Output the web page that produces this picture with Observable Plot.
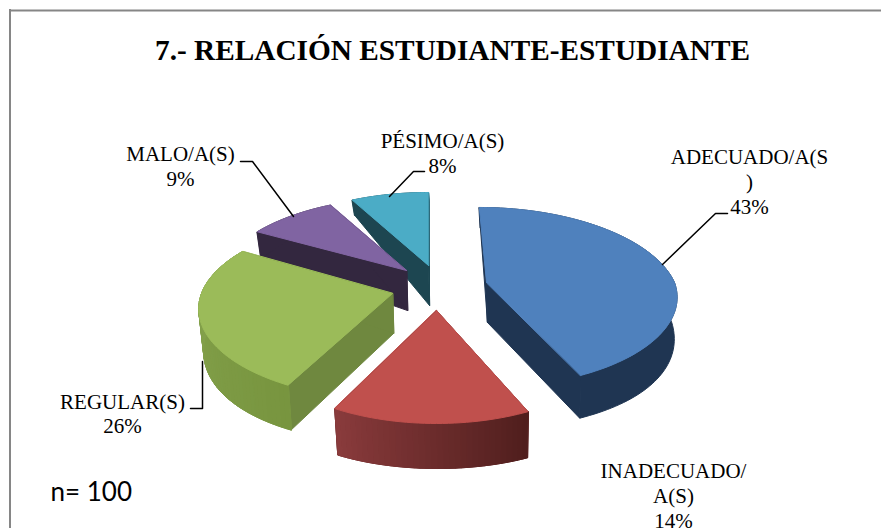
<!DOCTYPE html>
<html><head><meta charset="utf-8">
<script src="https://cdn.jsdelivr.net/npm/d3@7"></script>
<script src="https://cdn.jsdelivr.net/npm/@observablehq/plot@0.6"></script>
<style>html,body{margin:0;padding:0;background:#fff}svg{display:block}</style>
</head><body><div id="c"></div>
<script>
const titleText = "7.- RELACIÓN ESTUDIANTE-ESTUDIANTE";
const noteText = "n= 100";
const categories = ["ADECUADO/A(S\n)", "INADECUADO/\nA(S)", "REGULAR(S)", "MALO/A(S)", "PÉSIMO/A(S)"];
const values = [43, 14, 26, 9, 8];
const topColors = ["#4f81bd", "#c0504d", "#9bbb59", "#8064a2", "#4bacc6"];
const wallColors = ["#1f3552", "#6b2a2a", "#6f883f", "#33273f", "#1d4651"];
const rimStart = ["#1f3552", "#8a3b3c", "#8aa852", "#33273f", "#1d4651"];
const rimEnd = ["#1f3552", "#4f1e1d", "#78953f", "#33273f", "#1d4651"];

// pie look: exploded apex and perspective of each slice
const look = [
  {ax:486, ay:282, R:188, a:87.4, q:.165, botA:100, botQ:.06, lean:.096, turn:0},
  {ax:436, ay:310, R:183, a:88.7, q:.215, botA:109.4, botQ:.073, lean:0, turn:1.5},
  {ax:392, ay:293, R:191, a:88, q:.17, botA:102, botQ:.073, lean:0, turn:2.5},
  {ax:406, ay:270, R:188, a:88.7, q:.215, botA:109.4, botQ:.073, lean:0, turn:0},
  {ax:428, ay:265, R:188, a:88.7, q:.215, botA:109.4, botQ:.073, lean:0, turn:0}
];
const depth = 40;
const labelAt = [[749,180.5],[673,494.5],[122,412.5],[180,165],[442,152]];
const leaders = [
  [[662,264],[715,213],[727,213]],
  [],
  [[202,361],[202,408],[190,408]],
  [[240,161],[252,161],[293,216]],
  [[389,196],[413,171],[424,171]]
];

const rad = d => d * Math.PI / 180;
function rimTop(l, deg) {
  const t = rad(deg), s = Math.sin(t), c = Math.cos(t);
  const f = 1 / (1 + l.q * c);
  const dx = l.R * s * f, dy = -l.a * c * f;
  return [dx + l.lean * Math.min(dy, 0), dy];
}
function rimBottom(l, deg) {
  const t = rad(deg), c = Math.cos(t);
  const [dx] = rimTop(l, deg);
  const dy = -l.botA * c / (1 + l.botQ * c);
  return [1 + .98 * dx, depth + dy];
}

const faces = [];
let idn = 0;
function face(pts, col) {
  const id = idn++;
  pts.forEach(p => faces.push({id, x: p[0], y: p[1], col}));
}
const starts = d3.cumsum([0, ...values]).map(v => v * 3.6);
const drawOrder = [4, 3, 2, 0, 1];
for (const i of drawOrder) {
  const l = look[i];
  const a0 = starts[i] + l.turn, a1 = starts[i + 1] + l.turn;
  const T = d => { const p = rimTop(l, d); return [l.ax + p[0], l.ay + p[1]]; };
  const B = d => { const p = rimBottom(l, d); return [l.ax + p[0], l.ay + p[1]]; };
  const apexT = [l.ax, l.ay], apexB = [l.ax + 1, l.ay + depth];
  const n = Math.max(8, Math.round((a1 - a0) / 1.5));
  const mix = d3.interpolateRgb(rimEnd[i], rimStart[i]);
  const angles = d3.range(n + 1).map(k => a0 + (a1 - a0) * k / n);
  face([apexT, T(a0), B(a0), apexB], wallColors[i]);
  face([apexT, T(a1), B(a1), apexB], wallColors[i]);
  // rim drawn as one piece first, so no seam shows between its shaded strips
  face([...angles.map(T), ...angles.slice().reverse().map(B)], d3.color(mix(.5)).formatHex());
  if (rimStart[i] !== rimEnd[i]) {
    for (let k = 0; k < n; k++) {
      face([T(angles[k]), T(angles[k + 1]), B(angles[k + 1]), B(angles[k])], d3.color(mix((k + .5) / n)).formatHex());
    }
  }
  face([apexT, ...angles.map(T)], topColors[i]);
}

const labelRows = categories.map((c, i) => ({text: `${c}\n${values[i]}%`, x: labelAt[i][0], y: labelAt[i][1]}));
const leaderRows = leaders.flatMap((pts, i) => pts.map(p => ({i, x: p[0], y: p[1]})));
const frameGray = "#868686";

const chart = Plot.plot({
  width: 881, height: 528, margin: 0,
  x: {type: "linear", domain: [0, 881], range: [0, 881], axis: null},
  y: {type: "linear", domain: [0, 528], range: [0, 528], axis: null},
  style: {background: "#fff", overflow: "hidden"},
  marks: [
    Plot.ruleY([10], {x1: 9, x2: 881, stroke: frameGray, strokeWidth: 2}),
    Plot.ruleX([9.5], {y1: 9, y2: 528, stroke: frameGray, strokeWidth: 2}),
    Plot.line(faces, {x: "x", y: "y", z: "id", fill: "col", stroke: "col", strokeWidth: 1, curve: "linear-closed"}),
    Plot.line(leaderRows, {x: "x", y: "y", z: "i", stroke: "#000", strokeWidth: 1.5, curve: "linear"}),
    Plot.text(labelRows, {x: "x", y: "y", text: "text", fontFamily: "Liberation Serif", fontSize: 21, lineHeight: 1.19, fill: "#000"}),
    Plot.text([titleText], {x: () => 452, y: () => 50, text: d => d, fontFamily: "Liberation Serif", fontWeight: "bold", fontSize: 29.3, fill: "#000"}),
    Plot.text([noteText], {x: () => 50, y: () => 492, text: d => d, textAnchor: "start", fontFamily: "Lato", fontSize: 26, fill: "#000"})
  ]
});
document.getElementById("c").append(chart);
</script></body></html>
